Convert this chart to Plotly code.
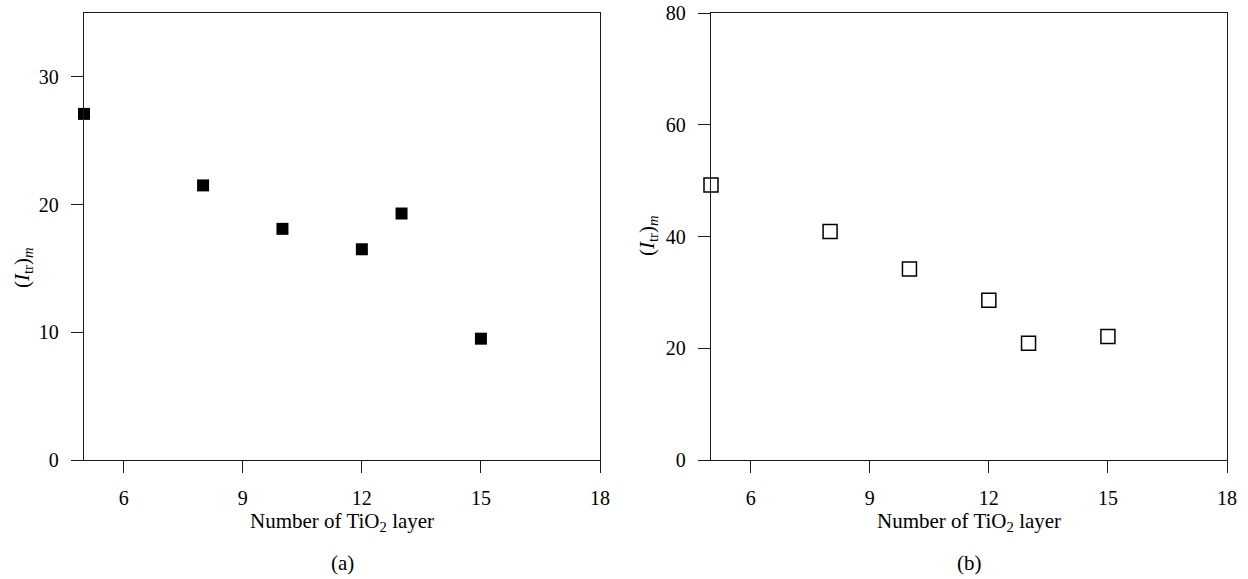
import plotly.graph_objects as go

# Number of TiO2 layers and peak transmitted intensity (I_tr)_m
layers = [5, 8, 10, 12, 13, 15]
itr_a = [27.1, 21.5, 18.1, 16.5, 19.3, 9.5]
itr_b = [49.2, 40.9, 34.2, 28.6, 20.9, 22.1]

x_ticks = [6, 9, 12, 15, 18]
y_ticks_a = [0, 10, 20, 30]
y_ticks_b = [0, 20, 40, 60, 80]

W, H = 1248, 579
FONT = "Liberation Serif, Times New Roman, serif"
TICK_FS = 20
TITLE_FS = 21
INK = "#1a1a1a"


def px_x(p):
    return p / W


def px_y(p):
    return 1 - p / H


fig = go.Figure()

fig.add_trace(go.Scatter(
    x=layers, y=itr_a, mode="markers", xaxis="x", yaxis="y",
    marker=dict(symbol="square", size=12, color="black", line=dict(width=0)),
    cliponaxis=False, showlegend=False,
))
fig.add_trace(go.Scatter(
    x=layers, y=itr_b, mode="markers", xaxis="x2", yaxis="y2",
    marker=dict(symbol="square-open", size=14, color="black", line=dict(width=1.5, color="black")),
    cliponaxis=False, showlegend=False,
))

axis_common = dict(
    showline=True, mirror=True, linecolor=INK, linewidth=1.3,
    ticks="outside", ticklen=12, tickwidth=1.3, tickcolor=INK,
    showgrid=False, zeroline=False, automargin=False,
    tickfont=dict(family=FONT, size=TICK_FS, color="black"),
    ticklabelstandoff=8,
)

y_dom = [px_y(460), px_y(13)]

fig.update_layout(
    template="none",
    width=W, height=H, autosize=False,
    margin=dict(l=0, r=0, t=0, b=0, pad=0),
    paper_bgcolor="white", plot_bgcolor="white",
    font=dict(family=FONT, size=TICK_FS, color="black"),
    xaxis=dict(domain=[px_x(84), px_x(600)], range=[5, 18], tickvals=x_ticks,
               anchor="y", **axis_common),
    yaxis=dict(domain=y_dom, range=[0, 35], tickvals=y_ticks_a,
               anchor="x", **axis_common),
    xaxis2=dict(domain=[px_x(711), px_x(1227)], range=[5, 18], tickvals=x_ticks,
                anchor="y2", **axis_common),
    yaxis2=dict(domain=y_dom, range=[0, 80], tickvals=y_ticks_b,
                anchor="x2", **axis_common),
)

ytitle = "(<i>I</i><sub>tr</sub>)<sub><i>m</i></sub>"
xtitle = "Number of TiO<sub>2</sub> layer"

annotations = [
    (342, 522, xtitle, 0),
    (969, 522, xtitle, 0),
    (342, 563, "(a)", 0),
    (969, 563, "(b)", 0),
    (23, 268, ytitle, -90),
    (648, 236, ytitle, -90),
]
for ax_px, ay_px, txt, ang in annotations:
    fig.add_annotation(
        x=px_x(ax_px), y=px_y(ay_px), xref="paper", yref="paper",
        text=txt, showarrow=False, textangle=ang,
        xanchor="center", yanchor="middle",
        font=dict(family=FONT, size=TITLE_FS, color="black"),
    )

fig.write_html("out.html")
